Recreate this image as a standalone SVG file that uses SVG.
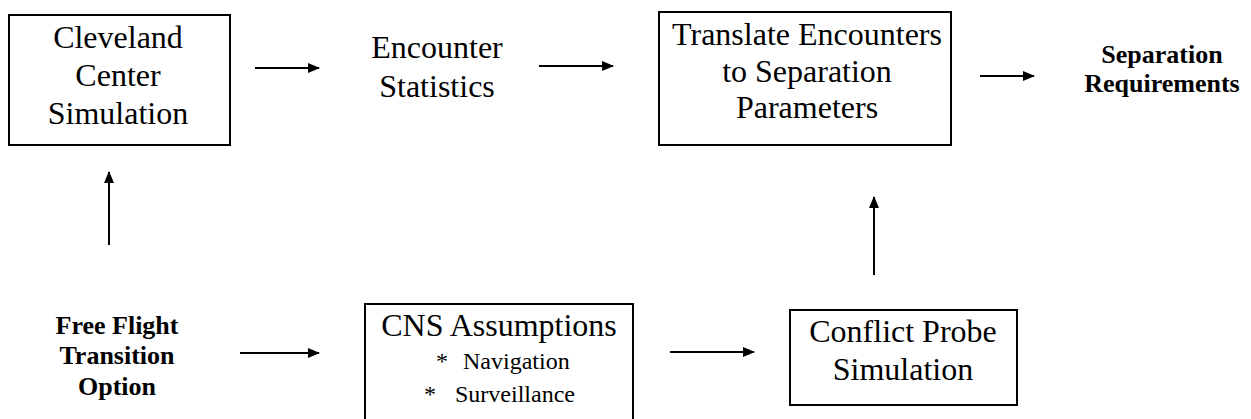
<svg xmlns="http://www.w3.org/2000/svg" width="1251" height="419" viewBox="0 0 1251 419">
<style>
.box{fill:none;stroke:#000;stroke-width:2}
.t{font-family:'Liberation Serif','Times New Roman','DejaVu Serif',serif;font-size:32px;fill:#000;text-anchor:middle}
.s{font-family:'Liberation Serif','Times New Roman','DejaVu Serif',serif;font-size:24px;fill:#000}
.b{font-family:'Liberation Serif','Times New Roman','DejaVu Serif',serif;font-size:26px;font-weight:bold;fill:#000;text-anchor:middle}
.c{stroke:#000;stroke-width:2;fill:none;marker-end:url(#ah)}
</style>
<defs>
<marker id="ah" markerWidth="12" markerHeight="10" refX="11" refY="5" orient="auto" markerUnits="userSpaceOnUse">
<path d="M0,0 L12,5 L0,10 Z" fill="#000"/>
</marker>
</defs>
<rect width="1251" height="419" fill="#fff"/>
<g id="connectors">
<line class="c" x1="255" y1="68" x2="319" y2="68"/>
<line class="c" x1="539" y1="66" x2="613" y2="66"/>
<line class="c" x1="980" y1="76" x2="1034" y2="76"/>
<line class="c" x1="109" y1="245" x2="109" y2="172"/>
<line class="c" x1="874" y1="275" x2="874" y2="197"/>
<line class="c" x1="240" y1="353" x2="319" y2="353"/>
<line class="c" x1="670" y1="352" x2="754" y2="352"/>
</g>
<g id="cleveland">
<rect class="box" x="9" y="15" width="221" height="130"/>
<text class="t" x="118" y="48">Cleveland</text>
<text class="t" x="118" y="86">Center</text>
<text class="t" x="118" y="124">Simulation</text>
</g>
<g id="encounter">
<text class="t" x="437" y="58">Encounter</text>
<text class="t" x="437" y="97">Statistics</text>
</g>
<g id="translate">
<rect class="box" x="659" y="12" width="292" height="133"/>
<text class="t" x="807" y="45">Translate Encounters</text>
<text class="t" x="807" y="82">to Separation</text>
<text class="t" x="807" y="118">Parameters</text>
</g>
<g id="separation">
<text class="b" x="1162" y="63">Separation</text>
<text class="b" x="1162" y="92">Requirements</text>
</g>
<g id="freeflight">
<text class="b" x="117" y="334">Free Flight</text>
<text class="b" x="117" y="364">Transition</text>
<text class="b" x="117" y="395">Option</text>
</g>
<g id="cns">
<rect class="box" x="365" y="304" width="268" height="125"/>
<text class="t" x="499" y="336">CNS Assumptions</text>
<text class="s" x="436" y="369">*</text>
<text class="s" x="463" y="369">Navigation</text>
<text class="s" x="424" y="402">*</text>
<text class="s" x="455" y="402">Surveillance</text>
</g>
<g id="conflict">
<rect class="box" x="790" y="310" width="227" height="95"/>
<text class="t" x="903" y="342">Conflict Probe</text>
<text class="t" x="903" y="380">Simulation</text>
</g>
</svg>
